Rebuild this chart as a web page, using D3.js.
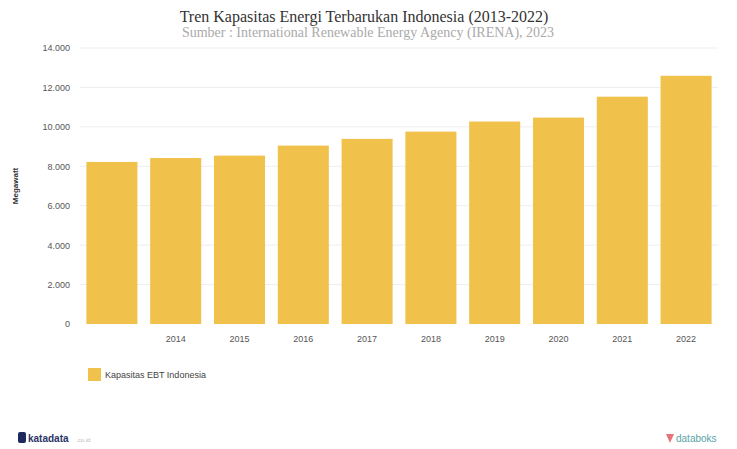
<!DOCTYPE html>
<html><head><meta charset="utf-8">
<script src="https://cdn.jsdelivr.net/npm/d3@7"></script>
<style>body{margin:0;background:#fff}svg{display:block}</style>
</head><body>
<svg id="c" width="737" height="449"></svg>
<script>
const years = ["2013","2014","2015","2016","2017","2018","2019","2020","2021","2022"];
const capacity = [8220, 8420, 8540, 9050, 9390, 9760, 10270, 10470, 11530, 12590];
const yTicks = [0, 2000, 4000, 6000, 8000, 10000, 12000, 14000];
const xTickLabels = ["2014","2015","2016","2017","2018","2019","2020","2021","2022"];
const title = "Tren Kapasitas Energi Terbarukan Indonesia (2013-2022)";
const subtitle = "Sumber : International Renewable Energy Agency (IRENA), 2023";
const seriesName = "Kapasitas EBT Indonesia";

const svg = d3.select("#c");
const x = d3.scaleBand().domain(years).range([80, 718]).paddingInner(0.2).paddingOuter(0.1);
const y = d3.scaleLinear().domain([0, 14000]).range([324, 48]);
const fmt = d => d3.format(",")(d).replace(/,/g, ".");

// gridlines
svg.append("g").selectAll("line").data(yTicks.filter(d=>d>0)).join("line")
  .attr("x1", 80).attr("x2", 718).attr("y1", d=>y(d)).attr("y2", d=>y(d))
  .attr("stroke", "#eeeeee").attr("stroke-width", 1);

// y axis
const ya = svg.append("g").attr("transform","translate(74,0)")
  .call(d3.axisLeft(y).tickValues(yTicks).tickFormat(fmt).tickSize(0).tickPadding(4));
ya.select(".domain").remove();
ya.selectAll("text").attr("font-family","Liberation Sans, Arial, sans-serif").attr("font-size",9).attr("fill","#555");

// x axis
const xa = svg.append("g").attr("transform","translate(0,332)")
  .call(d3.axisBottom(x).tickValues(xTickLabels).tickSize(0).tickPadding(4));
xa.select(".domain").remove();
xa.selectAll("text").attr("font-family","Liberation Sans, Arial, sans-serif").attr("font-size",9).attr("fill","#555");

// bars
svg.append("g").selectAll("rect").data(years).join("rect")
  .attr("x", d=>x(d)).attr("width", x.bandwidth())
  .attr("y", (d,i)=>y(capacity[i])).attr("height", (d,i)=>y(0)-y(capacity[i]))
  .attr("fill", "#F0C24B");

// y label
svg.append("text").attr("transform","translate(18,186) rotate(-90)")
  .attr("text-anchor","middle").attr("font-family","Liberation Sans, Arial, sans-serif")
  .attr("font-size",8).attr("font-weight","bold").attr("fill","#333").text("Megawatt");

// title
svg.append("text").attr("x",364).attr("y",22).attr("text-anchor","middle")
  .attr("font-family","Liberation Serif, Times New Roman, serif").attr("font-size",16).attr("fill","#333").text(title);
svg.append("text").attr("x",368).attr("y",37).attr("text-anchor","middle")
  .attr("font-family","Liberation Serif, Times New Roman, serif").attr("font-size",14).attr("fill","#aaa").text(subtitle);

// legend
const lg = svg.append("g").attr("transform","translate(88,368)");
lg.append("rect").attr("width",13).attr("height",13).attr("fill","#F0C24B");
lg.append("text").attr("x",17).attr("y",10).attr("font-family","Liberation Sans, Arial, sans-serif")
  .attr("font-size",9).attr("fill","#444").text(seriesName);

// footer
const f1 = svg.append("g").attr("transform","translate(18,432)");
f1.append("rect").attr("width",8).attr("height",11).attr("rx",2).attr("fill","#1d2a5b");
f1.append("text").attr("x",10).attr("y",10).attr("font-family","Liberation Sans, Arial, sans-serif")
  .attr("font-size",10).attr("font-weight","bold").attr("fill","#2a3566").text("katadata");
f1.append("text").attr("x",58).attr("y",10).attr("font-family","Liberation Sans, Arial, sans-serif")
  .attr("font-size",6).attr("fill","#bbb").text(".co.id");
const f2 = svg.append("g").attr("transform","translate(666,432)");
f2.append("path").attr("d","M0,2 L8,2 L4,11 Z").attr("fill","#e8737a");
f2.append("text").attr("x",10).attr("y",10).attr("font-family","Liberation Sans, Arial, sans-serif")
  .attr("font-size",10).attr("fill","#5aa4a8").text("databoks");
</script>
</body></html>
